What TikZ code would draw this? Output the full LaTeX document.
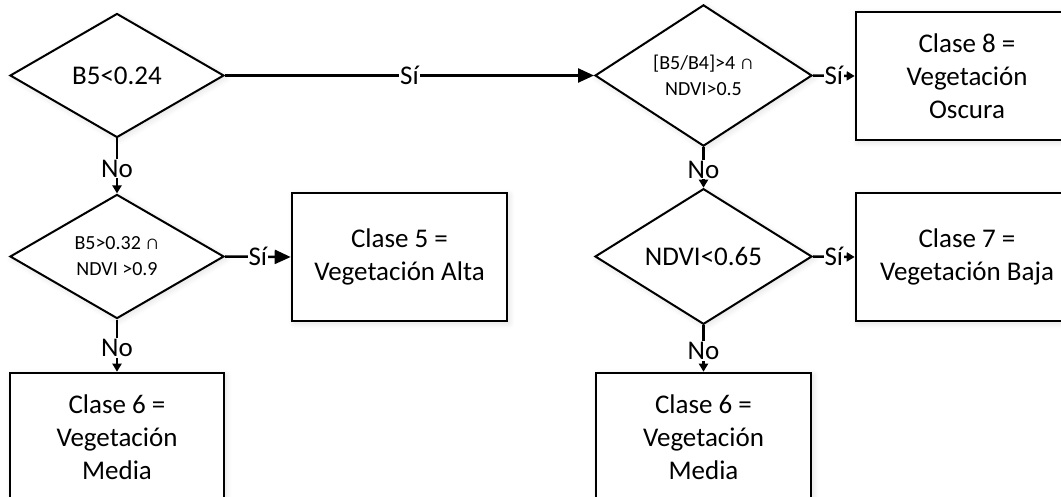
\documentclass[tikz,border=0pt]{standalone}
\usepackage{fontspec}
\setmainfont{Carlito}
\usetikzlibrary{shapes.geometric,arrows.meta,shadows.blur}

\tikzset{
  big/.style={font=\fontsize{27}{33}\selectfont},
  small/.style={font=\fontsize{20}{26}\selectfont},
  halo/.style={blur shadow={shadow xshift=2pt, shadow yshift=-2pt,
    shadow blur radius=6pt, shadow opacity=12, shadow blur steps=8}},
  test/.style={draw, line width=2pt, shape=diamond, inner sep=0pt, align=center,
    fill=white, halo, minimum width=#1, minimum height=124pt},
  test/.default=214pt,
  classbox/.style={draw, line width=2.6pt, rectangle, inner sep=0pt, align=center,
    fill=white, halo, minimum height=128pt, minimum width=#1, big},
  classbox/.default=215pt,
  link/.style={line width=2.5pt},
  tipbig/.style={-{Triangle[length=16pt,width=14pt]}},
  tipsmall/.style={-{Triangle[length=8pt,width=9pt]}},
  answer/.style={fill=white, inner sep=1pt, big},
}

\begin{document}
\begin{tikzpicture}[x=1pt, y=-1pt]
  \useasboundingbox (0,0) rectangle (1061,497);

  % decisions
  \node[test, big] (d1) at (117,75.5) {B5<0.24};
  \node[test=217pt, small] (d2) at (703.5,75.5) {[B5/B4]>4 ∩\\NDVI>0.5};
  \node[test, small] (d3) at (117,256.5) {B5>0.32 ∩\\NDVI >0.9};
  \node[test=217pt, big] (d4) at (703.5,256.5) {NDVI<0.65};

  % classes
  \node[classbox=222pt] (b8) at (967,76) {Clase 8 =\\Vegetación\\Oscura};
  \node[classbox] (b5) at (399.5,257) {Clase 5 =\\Vegetación Alta};
  \node[classbox=222pt] (b7) at (967,257) {Clase 7 =\\Vegetación Baja};
  \node[classbox=214pt] (b6a) at (117,437) {Clase 6 =\\Vegetación\\Media};
  \node[classbox] (b6b) at (703.5,437) {Clase 6 =\\Vegetación\\Media};

  % yes branches
  \draw[link, tipbig] (d1.east) -- node[answer] {Sí} (d2.west);
  \draw[link, tipsmall] (d2.east) -- node[answer] {Sí} (b8.west);
  \draw[link, tipbig] (d3.east) -- node[answer] {Sí} (b5.west);
  \draw[link, tipsmall] (d4.east) -- node[answer] {Sí} (b7.west);

  % no branches
  \draw[link, tipsmall] (d1.south) -- node[answer, pos=0.55] {No} (d3.north);
  \draw[link, tipsmall] (d2.south) -- node[answer, pos=0.55] {No} (d4.north);
  \draw[link, tipsmall] (d3.south) -- node[answer, pos=0.55] {No} (b6a.north);
  \draw[link, tipsmall] (d4.south) -- node[answer, pos=0.55] {No} (b6b.north);
\end{tikzpicture}
\end{document}
